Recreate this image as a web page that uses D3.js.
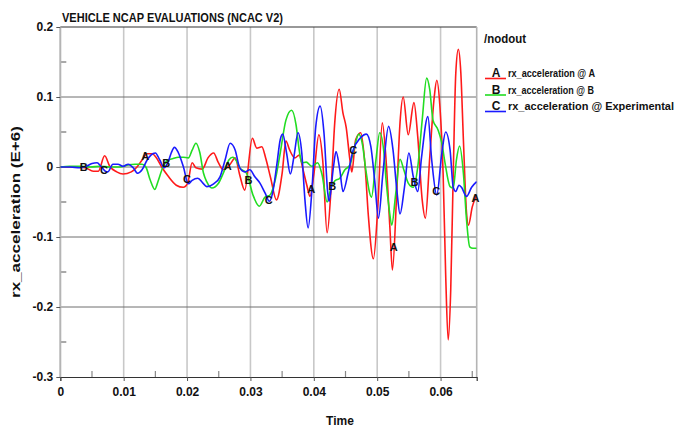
<!DOCTYPE html>
<html>
<head>
<meta charset="utf-8">
<script src="https://cdn.jsdelivr.net/npm/d3@7"></script>
<style>
  body { margin: 0; background: #fff; }
  text { font-family: "Liberation Sans", Arial, sans-serif; font-weight: bold; }
</style>
</head>
<body>
<script>
// size of the svg
const w = 681;
const h = 428;

// plot area
const plotLeft = 60.3;
const plotRight = 476.7;
const plotTop = 27;
const plotBottom = 377;

// ticks
const xTicks = [0, 0.01, 0.02, 0.03, 0.04, 0.05, 0.06];
const xMinor = [0.005, 0.015, 0.025, 0.035, 0.045, 0.055, 0.065];
const yTicks = [0.2, 0.1, 0, -0.1, -0.2, -0.3];
const yMinor = [0.15, 0.05, -0.05, -0.15, -0.25];

// curve A (red)
const timeA = [0, 0.0023, 0.0039, 0.0052, 0.0060, 0.0070, 0.0078, 0.0089, 0.0099, 0.0112, 0.0121, 0.0129, 0.0137, 0.0145, 0.0151, 0.0160, 0.0170, 0.0183, 0.0194, 0.0201, 0.0208, 0.0214, 0.0224, 0.0233, 0.0242, 0.0249, 0.0257, 0.0268, 0.0276, 0.0283, 0.0291, 0.0303, 0.0310, 0.0318, 0.0324, 0.0332, 0.0341, 0.0350, 0.0356, 0.0362, 0.0370, 0.0377, 0.0383, 0.0389, 0.0394, 0.0400, 0.0408, 0.0414, 0.0421, 0.0428, 0.0433, 0.0440, 0.0446, 0.0451, 0.0457, 0.0460, 0.0466, 0.0474, 0.0481, 0.0486, 0.0494, 0.0501, 0.0508, 0.0514, 0.0520, 0.0524, 0.0531, 0.0536, 0.0541, 0.0549, 0.0558, 0.0564, 0.0571, 0.0576, 0.0583, 0.0590, 0.0594, 0.0599, 0.0604, 0.0608, 0.0612, 0.0616, 0.0620, 0.0624, 0.0628, 0.0632, 0.0636, 0.0641, 0.0644, 0.0650, 0.0657];
const accA = [0, 0, -0.001, -0.006, -0.006, 0.016, 0.001, -0.007, -0.010, -0.007, 0, 0.010, 0.019, 0.019, 0.014, 0, -0.013, -0.026, -0.029, -0.023, 0.006, -0.001, -0.003, 0.013, 0.020, 0.007, -0.004, 0.004, 0.013, -0.011, -0.033, 0.041, 0.027, 0.029, 0.013, -0.016, -0.047, -0.009, 0.037, 0.024, 0.013, 0.017, -0.004, -0.026, -0.042, -0.011, 0.046, 0.010, -0.094, -0.019, 0.063, 0.111, 0.077, 0.057, 0.010, -0.007, 0.039, 0.049, 0, -0.069, -0.131, -0.057, 0.063, 0.010, -0.086, -0.147, -0.033, 0.063, 0.100, 0.046, 0.092, 0.043, -0.047, -0.073, 0.015, 0.100, 0.124, 0.086, -0.009, -0.152, -0.247, -0.176, -0.009, 0.134, 0.168, 0.134, 0.039, -0.066, -0.083, -0.057, -0.040];

// curve B (green)
const timeB = [0, 0.0015, 0.0031, 0.0047, 0.0063, 0.0078, 0.0094, 0.0107, 0.0118, 0.0129, 0.0135, 0.0142, 0.0149, 0.0154, 0.0162, 0.0170, 0.0178, 0.0186, 0.0194, 0.0202, 0.0208, 0.0214, 0.0220, 0.0226, 0.0231, 0.0239, 0.0249, 0.0258, 0.0266, 0.0272, 0.0279, 0.0283, 0.0294, 0.0304, 0.0314, 0.0323, 0.0331, 0.0339, 0.0347, 0.0356, 0.0365, 0.0372, 0.0377, 0.0381, 0.0388, 0.0397, 0.0406, 0.0413, 0.0421, 0.0427, 0.0433, 0.0441, 0.0449, 0.0457, 0.0463, 0.0471, 0.0477, 0.0482, 0.0491, 0.0498, 0.0504, 0.0511, 0.0514, 0.0519, 0.0523, 0.0529, 0.0536, 0.0542, 0.0549, 0.0557, 0.0564, 0.0571, 0.0578, 0.0583, 0.0588, 0.0596, 0.0602, 0.0607, 0.0615, 0.0620, 0.0625, 0.0630, 0.0636, 0.0641, 0.0646, 0.0651, 0.0657];
const accB = [0, 0.001, 0.001, 0, 0.001, 0, 0, 0.003, 0.004, 0.004, 0, -0.019, -0.032, -0.021, 0, 0.010, 0.012, 0.014, 0.014, 0.013, 0.024, 0.034, 0.021, -0.009, -0.021, -0.030, -0.024, -0.007, 0.010, 0.014, 0.007, -0.001, -0.009, -0.040, -0.056, -0.043, -0.040, -0.019, 0.020, 0.067, 0.081, 0.060, 0.024, 0.006, 0.007, 0.001, 0.006, -0.011, -0.050, -0.030, -0.020, -0.016, -0.004, 0.003, 0.024, 0.047, 0.031, -0.004, -0.043, 0.010, 0.049, 0.017, -0.019, -0.061, -0.083, -0.040, 0.011, -0.004, -0.023, -0.029, 0, 0.067, 0.127, 0.110, 0.067, 0.053, 0.034, 0.006, -0.028, -0.030, 0.010, 0.030, -0.009, -0.076, -0.114, -0.116, -0.116];

// curve C (blue, experimental)
const timeC = [0, 0.0015, 0.0031, 0.0041, 0.0050, 0.0058, 0.0064, 0.0071, 0.0075, 0.0083, 0.0091, 0.0099, 0.0107, 0.0115, 0.0122, 0.0129, 0.0137, 0.0143, 0.0150, 0.0157, 0.0164, 0.0170, 0.0175, 0.0180, 0.0186, 0.0194, 0.0202, 0.0208, 0.0217, 0.0225, 0.0231, 0.0242, 0.0252, 0.0260, 0.0268, 0.0276, 0.0283, 0.0291, 0.0299, 0.0307, 0.0315, 0.0323, 0.0330, 0.0335, 0.0342, 0.0347, 0.0351, 0.0357, 0.0363, 0.0369, 0.0375, 0.0381, 0.0386, 0.0391, 0.0397, 0.0403, 0.0410, 0.0416, 0.0422, 0.0424, 0.0431, 0.0435, 0.0441, 0.0446, 0.0454, 0.0462, 0.0473, 0.0483, 0.0490, 0.0496, 0.0502, 0.0509, 0.0518, 0.0525, 0.0531, 0.0536, 0.0543, 0.0550, 0.0557, 0.0564, 0.0570, 0.0580, 0.0586, 0.0594, 0.0602, 0.0608, 0.0615, 0.0620, 0.0624, 0.0629, 0.0633, 0.0641, 0.0649, 0.0657];
const accC = [0, 0, -0.001, 0.001, 0.005, 0.006, 0.001, -0.006, -0.007, 0.004, 0.004, 0.001, 0.004, -0.001, -0.009, -0.004, 0.010, 0.017, 0.020, 0.010, -0.001, 0.007, 0.020, 0.028, 0.021, 0.001, -0.024, -0.019, -0.016, -0.023, -0.028, -0.024, -0.014, 0.010, 0.034, 0.024, -0.001, -0.007, -0.004, -0.014, -0.023, -0.037, -0.049, -0.037, 0.006, 0.039, 0.047, 0.020, -0.010, 0.017, 0.049, 0.020, -0.047, -0.087, -0.033, 0.057, 0.087, 0.049, -0.037, -0.049, 0, 0.022, -0.004, -0.035, -0.009, 0.024, 0.041, 0.047, 0.029, -0.019, -0.073, -0.009, 0.058, 0.024, -0.033, -0.067, -0.029, 0.020, -0.014, -0.035, 0.014, 0.072, 0.010, -0.040, 0.020, 0.050, 0.024, -0.029, -0.035, -0.026, -0.029, -0.042, -0.029, -0.021];

// where the letter markers sit on each curve
const markA = [0.0134, 0.0264, 0.0396, 0.0526, 0.0655];
const markB = [0.0037, 0.0167, 0.0297, 0.0429, 0.0559];
const markC = [0.0069, 0.0200, 0.0329, 0.0462, 0.0593];

const series = [
  { key: "A", name: "rx_acceleration @ A", color: "#ff1a1a", t: timeA, v: accA, marks: markA },
  { key: "B", name: "rx_acceleration @ B", color: "#22dd22", t: timeB, v: accB, marks: markB },
  { key: "C", name: "rx_acceleration @ Experimental", color: "#1a1aff", t: timeC, v: accC, marks: markC }
];

const svg = d3.select("body").append("svg").attr("width", w).attr("height", h);

// scales
const xScale = d3.scaleLinear().domain([0, 0.0657]).range([plotLeft, plotRight]);
const yScale = d3.scaleLinear().domain([-0.3, 0.2]).range([plotBottom, plotTop]);

// vertical grid
svg.append("g")
  .selectAll("line")
  .data(xTicks.slice(1))
  .enter()
  .append("line")
  .attr("x1", d => xScale(d)).attr("x2", d => xScale(d))
  .attr("y1", plotTop).attr("y2", plotBottom)
  .attr("stroke", "#c8c8c8").attr("stroke-width", 1.6);

// horizontal grid
svg.append("g")
  .selectAll("line")
  .data(yTicks.slice(1, -1))
  .enter()
  .append("line")
  .attr("x1", plotLeft).attr("x2", plotRight)
  .attr("y1", d => yScale(d)).attr("y2", d => yScale(d))
  .attr("stroke", "#6e6e6e").attr("stroke-width", 1);

// minor ticks
svg.append("g")
  .selectAll("line")
  .data(xMinor)
  .enter()
  .append("line")
  .attr("x1", d => xScale(d)).attr("x2", d => xScale(d))
  .attr("y1", plotBottom - 6).attr("y2", plotBottom)
  .attr("stroke", "#888").attr("stroke-width", 1.2);

svg.append("g")
  .selectAll("line")
  .data(yMinor)
  .enter()
  .append("line")
  .attr("x1", plotLeft).attr("x2", plotLeft + 6)
  .attr("y1", d => yScale(d)).attr("y2", d => yScale(d))
  .attr("stroke", "#555").attr("stroke-width", 1);

// frame
svg.append("line").attr("x1", plotLeft).attr("x2", plotRight).attr("y1", plotTop).attr("y2", plotTop)
  .attr("stroke", "#333").attr("stroke-width", 1.2);
svg.append("line").attr("x1", plotRight).attr("x2", plotRight).attr("y1", plotTop).attr("y2", plotBottom)
  .attr("stroke", "#b4b4b4").attr("stroke-width", 1.6);
svg.append("line").attr("x1", plotLeft).attr("x2", plotLeft).attr("y1", plotTop).attr("y2", plotBottom)
  .attr("stroke", "#b4b4b4").attr("stroke-width", 2);

// axes
const xAxis = d3.axisBottom(xScale).tickValues(xTicks).tickSize(4).tickPadding(6)
  .tickFormat(d => String(d));
const yAxis = d3.axisLeft(yScale).tickValues(yTicks).tickSize(4).tickPadding(3)
  .tickFormat(d => String(d));

const gx = svg.append("g").attr("transform", "translate(0," + plotBottom + ")").call(xAxis);
gx.select(".domain").attr("stroke", "#333").attr("stroke-width", 1.2);
gx.selectAll(".tick line").attr("stroke", "#555");
gx.selectAll("text").attr("fill", "#111").style("font-size", "12px").style("font-weight", "bold");

const gy = svg.append("g").attr("transform", "translate(" + plotLeft + ",0)").call(yAxis);
gy.select(".domain").remove();
gy.selectAll(".tick line").attr("stroke", "#555");
gy.selectAll("text").attr("fill", "#111").style("font-size", "12px").style("font-weight", "bold");

// curves
svg.append("clipPath").attr("id", "plot")
  .append("rect").attr("x", plotLeft).attr("y", plotTop).attr("width", plotRight - plotLeft).attr("height", plotBottom - plotTop);

const line = d3.line()
  .x(d => xScale(d[0]))
  .y(d => yScale(d[1]))
  .curve(d3.curveMonotoneX);

series.forEach(s => {
  const pts = s.t.map((t, i) => [t, s.v[i]]);
  svg.append("path")
    .datum(pts)
    .attr("clip-path", "url(#plot)")
    .attr("fill", "none")
    .attr("stroke", s.color)
    .attr("stroke-width", 1.6)
    .attr("stroke-linejoin", "round")
    .attr("d", line);
});

// value of a series at time t (linear between read points)
function valueAt(s, t) {
  const i = d3.bisectLeft(s.t, t);
  if (i <= 0) return s.v[0];
  if (i >= s.t.length) return s.v[s.t.length - 1];
  const f = (t - s.t[i - 1]) / (s.t[i] - s.t[i - 1]);
  return s.v[i - 1] + f * (s.v[i] - s.v[i - 1]);
}

// letter markers
series.forEach(s => {
  svg.append("g")
    .selectAll("text")
    .data(s.marks)
    .enter()
    .append("text")
    .attr("x", d => xScale(d))
    .attr("y", d => yScale(valueAt(s, d)))
    .attr("text-anchor", "middle")
    .attr("dominant-baseline", "central")
    .style("font-size", "11px")
    .attr("fill", "#111")
    .text(s.key);
});

// title
svg.append("text")
  .attr("x", 62).attr("y", 22)
  .attr("textLength", 221).attr("lengthAdjust", "spacingAndGlyphs")
  .style("font-size", "12px")
  .attr("fill", "#111")
  .text("VEHICLE NCAP EVALUATIONS (NCAC V2)");

// axis titles
svg.append("text")
  .attr("x", 340).attr("y", 425)
  .attr("text-anchor", "middle")
  .style("font-size", "12px")
  .attr("fill", "#111")
  .text("Time");

svg.append("text")
  .attr("transform", "translate(20,212) rotate(-90)")
  .attr("text-anchor", "middle")
  .attr("textLength", 172).attr("lengthAdjust", "spacingAndGlyphs")
  .style("font-size", "12px")
  .attr("fill", "#111")
  .text("rx_acceleration (E+6)");

// legend
svg.append("text")
  .attr("x", 484).attr("y", 43)
  .attr("textLength", 42).attr("lengthAdjust", "spacingAndGlyphs")
  .style("font-size", "12px")
  .attr("fill", "#111")
  .text("/nodout");

const legendRows = [77, 93.5, 110];
const legendWidths = [87, 86, 166];

series.forEach((s, i) => {
  const g = svg.append("g").attr("transform", "translate(0," + legendRows[i] + ")");
  g.append("line")
    .attr("x1", 485).attr("x2", 506).attr("y1", 1.5).attr("y2", 1.5)
    .attr("stroke", s.color).attr("stroke-width", 1.6);
  g.append("text")
    .attr("x", 496).attr("y", 0)
    .attr("text-anchor", "middle")
    .style("font-size", "12px")
    .attr("fill", "#111")
    .text(s.key);
  g.append("text")
    .attr("x", 508).attr("y", 0)
    .attr("textLength", legendWidths[i]).attr("lengthAdjust", "spacingAndGlyphs")
    .style("font-size", "10.5px")
    .attr("fill", "#111")
    .text(s.name);
});
</script>
</body>
</html>
